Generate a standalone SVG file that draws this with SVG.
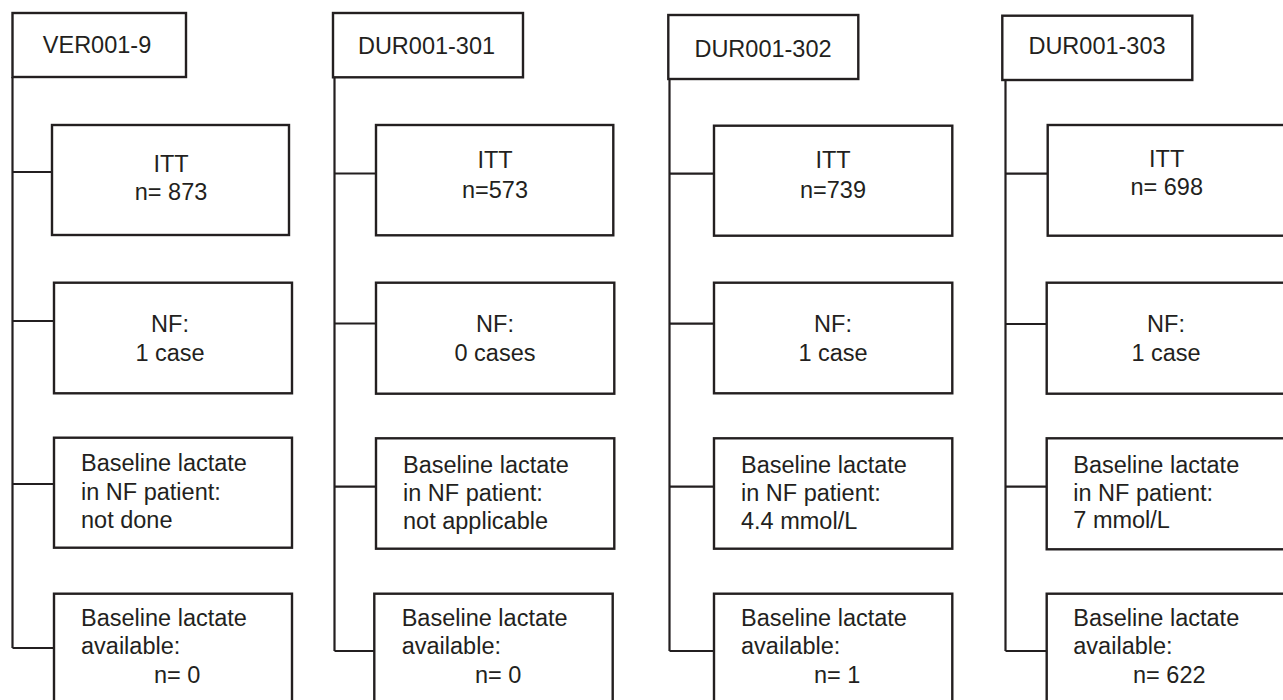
<svg xmlns="http://www.w3.org/2000/svg" width="1283" height="700" viewBox="0 0 1283 700">
<style>
.box{fill:#ffffff;stroke:#231f20;stroke-width:2.4}
.ln{fill:none;stroke:#231f20;stroke-width:2.2}
text{font-family:"Liberation Sans",Arial,sans-serif;font-size:23.5px;fill:#231f20}
.c{text-anchor:middle}
</style>
<rect width="1283" height="700" fill="#ffffff"/>
<g id="connectors">
<path class="ln" d="M12.5,77 V648 M12.5,172 H52 M12.5,321 H54 M12.5,484 H54 M12.5,648 H54"/>
<path class="ln" d="M334.5,77 V651 M334.5,173.5 H376 M334.5,323.5 H376 M334.5,486.7 H376 M334.5,651 H374"/>
<path class="ln" d="M669.5,79 V651 M669.5,173.7 H714 M669.5,323.7 H714 M669.5,486.7 H714 M669.5,651 H714"/>
<path class="ln" d="M1005.5,80 V651 M1005.5,173.7 H1047 M1005.5,324 H1047 M1005.5,486.7 H1047 M1005.5,651 H1047"/>
</g>
<g id="h1"><rect class="box" x="12.5" y="13" width="173.5" height="64"/><text class="c" x="97" y="53">VER001-9</text></g>
<g id="itt1"><rect class="box" x="52" y="125" width="237" height="110"/><text class="c" x="171" y="171.5">ITT</text><text class="c" x="171" y="200">n= 873</text></g>
<g id="nf1"><rect class="box" x="54" y="282.7" width="238" height="110.6"/><text class="c" x="170" y="331.7">NF:</text><text class="c" x="170" y="360.7">1 case</text></g>
<g id="bl1"><rect class="box" x="54" y="437.7" width="238" height="110"/><text x="81" y="471">Baseline lactate</text><text x="81" y="499.5">in NF patient:</text><text x="81" y="528">not done</text></g>
<g id="av1"><rect class="box" x="54" y="593.7" width="238" height="130"/><text x="81" y="625.7">Baseline lactate</text><text x="81" y="654.3">available:</text><text x="154" y="683">n= 0</text></g>

<g id="h2"><rect class="box" x="333" y="13" width="190" height="64.3"/><text class="c" x="426.5" y="54.3">DUR001-301</text></g>
<g id="itt2"><rect class="box" x="376" y="125" width="237.3" height="110.3"/><text class="c" x="495" y="168.3">ITT</text><text class="c" x="495" y="197.7">n=573</text></g>
<g id="nf2"><rect class="box" x="376" y="282.7" width="238.3" height="111"/><text class="c" x="495" y="331.7">NF:</text><text class="c" x="495" y="360.7">0 cases</text></g>
<g id="bl2"><rect class="box" x="376" y="438.3" width="238.3" height="110.4"/><text x="403" y="472.5">Baseline lactate</text><text x="403" y="501">in NF patient:</text><text x="403" y="528.5">not applicable</text></g>
<g id="av2"><rect class="box" x="374.3" y="593.7" width="238.4" height="130"/><text x="401.7" y="625.7">Baseline lactate</text><text x="401.7" y="654.3">available:</text><text x="475" y="683">n= 0</text></g>

<g id="h3"><rect class="box" x="668.3" y="15" width="190" height="64"/><text class="c" x="763" y="56.7">DUR001-302</text></g>
<g id="itt3"><rect class="box" x="714" y="125.7" width="238.3" height="110"/><text class="c" x="833" y="168.3">ITT</text><text class="c" x="833" y="197.7">n=739</text></g>
<g id="nf3"><rect class="box" x="714" y="282.7" width="238.3" height="110.6"/><text class="c" x="833" y="331.7">NF:</text><text class="c" x="833" y="360.7">1 case</text></g>
<g id="bl3"><rect class="box" x="714" y="438.3" width="238.3" height="110.4"/><text x="741" y="472.5">Baseline lactate</text><text x="741" y="501">in NF patient:</text><text x="741" y="528.5">4.4 mmol/L</text></g>
<g id="av3"><rect class="box" x="714" y="593.7" width="238.3" height="130"/><text x="741" y="625.7">Baseline lactate</text><text x="741" y="654.3">available:</text><text x="814" y="682.7">n= 1</text></g>

<g id="h4"><rect class="box" x="1002.3" y="15.7" width="190" height="64.3"/><text class="c" x="1097" y="54.3">DUR001-303</text></g>
<g id="itt4"><rect class="box" x="1047.7" y="125" width="238" height="110.7"/><text class="c" x="1166.7" y="166.7">ITT</text><text class="c" x="1166.7" y="195">n= 698</text></g>
<g id="nf4"><rect class="box" x="1046.7" y="282.7" width="239" height="111"/><text class="c" x="1166" y="331.7">NF:</text><text class="c" x="1166" y="360.7">1 case</text></g>
<g id="bl4"><rect class="box" x="1046.7" y="438.3" width="239" height="111"/><text x="1073.3" y="472.5">Baseline lactate</text><text x="1073.3" y="501">in NF patient:</text><text x="1073.3" y="528.3">7 mmol/L</text></g>
<g id="av4"><rect class="box" x="1046.7" y="593.7" width="239" height="130"/><text x="1073.3" y="625.7">Baseline lactate</text><text x="1073.3" y="654.3">available:</text><text x="1133" y="683">n= 622</text></g>
</svg>
